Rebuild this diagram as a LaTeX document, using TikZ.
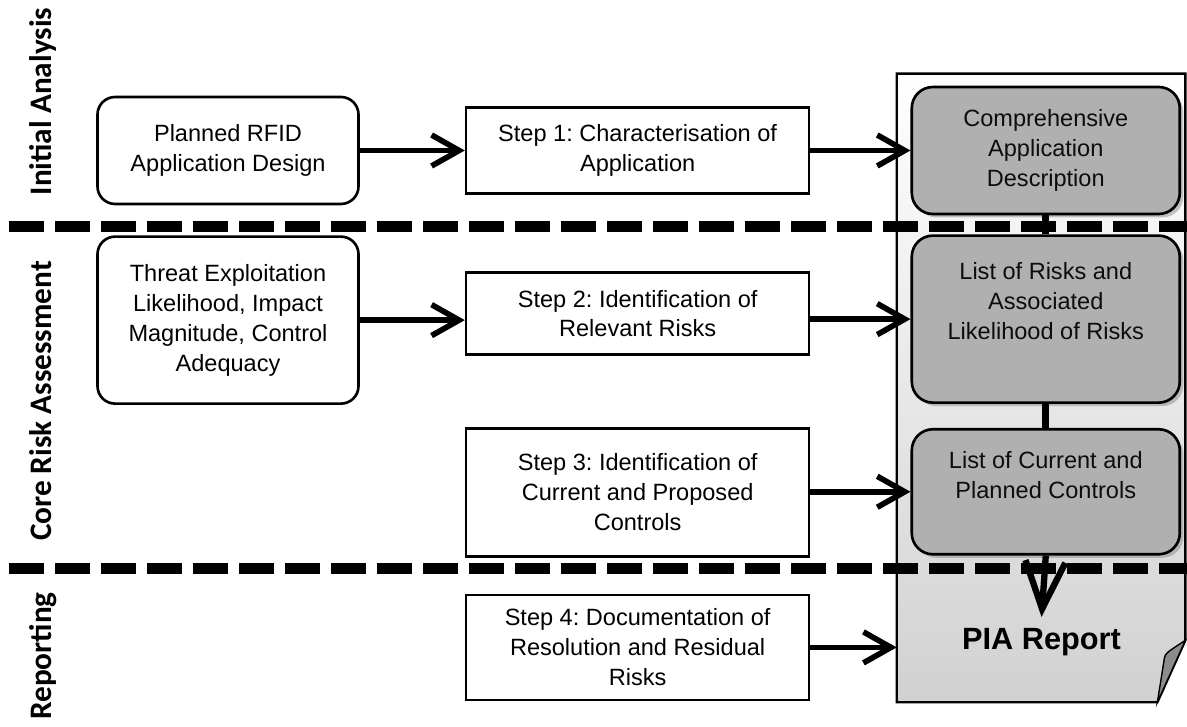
\documentclass[tikz,border=0pt]{standalone}
\usepackage{fontspec}
\setmainfont{Liberation Sans}
\newfontfamily\phasefont{Carlito}
\usepackage{tikz}
\usetikzlibrary{arrows.meta, positioning, shadows}
\frenchspacing

\begin{document}
\begin{tikzpicture}[
    node distance=2.1cm,
    roundbox/.style={
        rectangle, draw=black, line width=1.5pt, rounded corners=10pt,
        minimum width=5.22cm, align=center,
        font=\fontsize{13.4}{17}\selectfont
    },
    stepbox/.style={
        rectangle, draw=black, line width=1.5pt,
        minimum width=6.86cm, align=center,
        font=\fontsize{13.4}{17}\selectfont
    },
    outbox/.style={
        rectangle, draw=black, line width=1.5pt, rounded corners=12pt,
        fill=black!31, minimum width=5.36cm,
        drop shadow={shadow xshift=0.07cm, shadow yshift=-0.07cm, opacity=0.45}
    },
    outtext/.style={align=center, text=black!95, font=\fontsize{13.4}{17}\selectfont},
    arrow/.style={-{Straight Barb[length=0.55cm, width=0.62cm]}, line width=3.2pt},
    downarrow/.style={-{Straight Barb[length=0.95cm, width=0.8cm]}, line width=3.6pt},
    link/.style={line width=4pt},
    phase/.style={rotate=90, anchor=base, font=\phasefont\bfseries\fontsize{17.8}{20}\selectfont},
    phaseline/.style={line width=0.22cm, dash pattern=on 0.7cm off 0.22cm}
]
    \useasboundingbox (0,0) rectangle (23.74,14.52);

    % the report sheet behind the outputs
    \node[minimum width=5.76cm, minimum height=12.56cm, inner sep=0pt] (doc) at (20.82,6.76) {};
    \shade[top color=white, bottom color=black!18, draw=black, line width=1.3pt]
        (doc.north west) -- (doc.north east) -- ([yshift=1.24cm]doc.south east)
        -- ([xshift=-0.56cm]doc.south east) -- (doc.south west) -- cycle;
    \fill[black!45, draw=black, line width=0.8pt]
        ([xshift=-0.56cm]doc.south east) -- ([xshift=-0.42cm, yshift=0.88cm]doc.south east)
        .. controls ([xshift=-0.4cm, yshift=0.98cm]doc.south east) .. ([yshift=1.24cm]doc.south east) -- cycle;

    % phase separators
    \draw[phaseline] (0.18,9.98) -- (23.74,9.98);
    \draw[phaseline] (0.18,3.16) -- (23.74,3.16);

    \node[phase] (initial) at (1.04,12.49) {Initial Analysis};
    \node[phase] (core) at (1.04,6.5) {Core Risk Assessment};
    \node[phase] (reporting) at (1.04,1.4) {Reporting};

    % inputs
    \node[roundbox, minimum height=2.14cm] (rfid) at (4.56,11.51) {Planned RFID\\Application Design};
    \node[roundbox, minimum height=3.34cm, below=0.6cm of rfid] (threat)
        {Threat Exploitation\\Likelihood, Impact\\Magnitude, Control\\Adequacy};

    % steps
    \node[stepbox, minimum height=1.72cm, right=of rfid] (step1) {Step 1: Characterisation of\\Application};
    \node[stepbox, minimum height=1.64cm, right=of threat, yshift=0.13cm] (step2)
        {Step 2: Identification of\\Relevant Risks};
    \node[stepbox, minimum height=2.56cm, below=1.42cm of step2] (step3)
        {Step 3: Identification of\\Current and Proposed\\Controls};
    \node[stepbox, minimum height=2.1cm, below=0.72cm of step3] (step4)
        {Step 4: Documentation of\\Resolution and Residual\\Risks};

    % outputs
    \node[outbox, outtext, minimum height=2.54cm, right=2.0cm of step1] (appdesc)
        {Comprehensive\\Application\\Description};
    \node[outbox, minimum height=3.34cm, below=0.38cm of appdesc] (risks) {};
    \node[outtext] (riskstext) at ([yshift=0.36cm]risks.center)
        {List of Risks and\\Associated\\Likelihood of Risks};
    \node[outbox, minimum height=2.5cm, below=0.48cm of risks] (controls) {};
    \node[outtext] (controlstext) at ([yshift=0.33cm]controls.center)
        {List of Current and\\Planned Controls};
    \node[font=\bfseries\fontsize{17.5}{20}\selectfont, anchor=base, inner sep=6pt] (pia)
        at (20.83,1.54) {PIA Report};

    \draw[arrow] (rfid.east) -- (rfid.east -| step1.west);
    \draw[arrow] (step1.east) -- (step1.east -| appdesc.west);
    \draw[arrow] (threat.east) -- (threat.east -| step2.west);
    \draw[arrow] (step2.east |- risks.west) -- (risks.west);
    \draw[arrow] (step3.east |- controls.west) -- (controls.west);
    \draw[arrow] (step4.east) -- (step4.east -| doc.west);

    \draw[link] (appdesc) -- (risks);
    \draw[link] (risks) -- (controls);
    \draw[downarrow] (controls.south) -- (pia.north);
\end{tikzpicture}
\end{document}
